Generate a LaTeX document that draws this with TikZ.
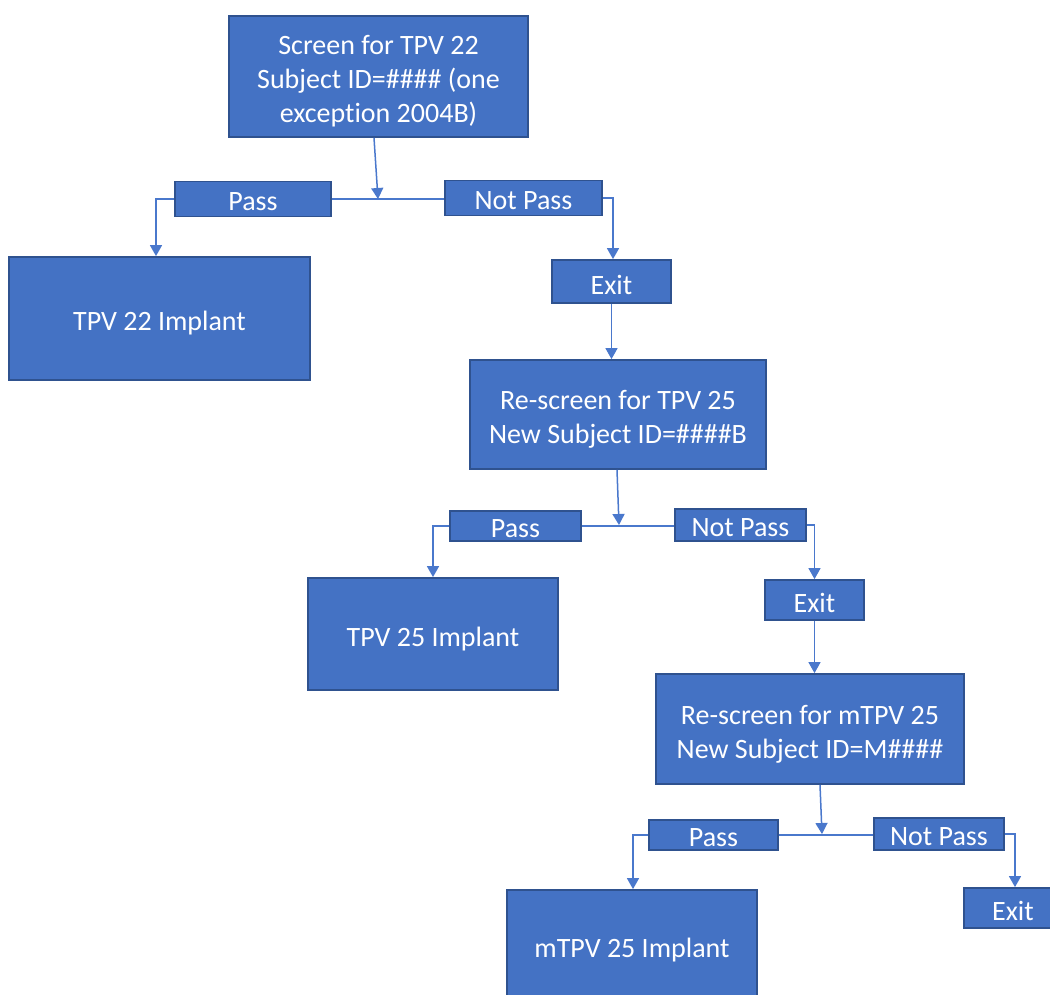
\documentclass[tikz,border=0pt]{standalone}
\usepackage{fontspec}
\setmainfont{Carlito}[Ligatures={NoCommon,NoRequired,NoContextual}]
\usetikzlibrary{arrows.meta}
\definecolor{boxfill}{HTML}{4472C4}
\definecolor{boxline}{HTML}{2F528F}
\definecolor{conn}{HTML}{4A78CC}
\begin{document}
\begin{tikzpicture}[x=1pt,y=-1pt,
  box/.style={draw=boxline,fill=boxfill,line width=1.8pt,inner sep=0pt},
  txt/.style={text=white,inner sep=0pt,align=center,font=\fontsize{28}{34}\selectfont,yshift=-5pt},
  stxt/.style={txt,yshift=2pt},
  conline/.style={draw=conn,line width=1.5pt},
  arr/.style={conline,-{Triangle[width=12pt,length=11pt]}}]
\useasboundingbox (0,0) rectangle (1050,994);
\clip (0,0) rectangle (1050,994);
% boxes
\node[box,minimum width=299pt,minimum height=121pt,label={[txt]center:Screen for TPV 22\\Subject ID=\#\#\#\# (one\\exception 2004B)}] (top) at (378.5,76.5) {};
\node[box,minimum width=156pt,minimum height=35pt,label={[stxt]center:Pass}] (pass1) at (253,199) {};
\node[box,minimum width=157pt,minimum height=35pt,label={[stxt]center:Not Pass}] (np1) at (523.5,198) {};
\node[box,minimum width=301pt,minimum height=123pt,label={[txt]center:TPV 22 Implant}] (imp22) at (159.5,318.5) {};
\node[box,minimum width=119pt,minimum height=43pt,label={[stxt]center:Exit}] (exit1) at (611.5,281.5) {};
\node[box,minimum width=296pt,minimum height=109pt,label={[txt]center:Re-screen for TPV 25\\New Subject ID=\#\#\#\#B}] (rs25) at (618,414.5) {};
\node[box,minimum width=131pt,minimum height=30pt,label={[stxt]center:Pass}] (pass2) at (515.5,526) {};
\node[box,minimum width=131pt,minimum height=32pt,label={[stxt]center:Not Pass}] (np2) at (740.5,525) {};
\node[box,minimum width=99pt,minimum height=40pt,label={[stxt]center:Exit}] (exit2) at (814.5,600) {};
\node[box,minimum width=250pt,minimum height=112pt,label={[txt]center:TPV 25 Implant}] (imp25) at (433,634) {};
\node[box,minimum width=308pt,minimum height=110pt,label={[txt]center:Re-screen for mTPV 25\\New Subject ID=M\#\#\#\#}] (rsm) at (810,729) {};
\node[box,minimum width=129pt,minimum height=30pt,label={[stxt]center:Pass}] (pass3) at (713.5,835) {};
\node[box,minimum width=130pt,minimum height=32pt,label={[stxt]center:Not Pass}] (np3) at (939,834) {};
\node[box,minimum width=98pt,minimum height=40pt,label={[stxt]center:Exit}] (exit3) at (1013,908) {};
\node[box,minimum width=250pt,minimum height=110pt,label={[txt]center:mTPV 25 Implant}] (impm) at (632,945) {};
% junction coordinates
\coordinate (j1) at (378,199);
\coordinate (j2) at (619,525);
\coordinate (j3) at (822,834);
% connectors level 1
\draw[arr] ([xshift=-4.5pt]top.south) -- (j1);
\draw[conline] (pass1.east) -- (np1.west |- pass1.east);
\draw[arr] (pass1.west) -| ([xshift=-3.5pt]imp22.north);
\draw[arr] (np1.east) -| ([xshift=1.5pt]exit1.north);
\draw[arr] (exit1.south) -- (exit1.south |- rs25.north);
% level 2
\draw[arr] ([xshift=-1pt]rs25.south) -- (j2);
\draw[conline] (pass2.east) -- (np2.west |- pass2.east);
\draw[arr] (pass2.west) -| (imp25.north);
\draw[arr] (np2.east) -| (exit2.north);
\draw[arr] (exit2.south) -- (exit2.south |- rsm.north);
% level 3
\draw[arr] ([xshift=10pt]rsm.south) -- (j3);
\draw[conline] (pass3.east) -- (np3.west |- pass3.east);
\draw[arr] (pass3.west) -| ([xshift=1pt]impm.north);
\draw[arr] (np3.east) -| ([xshift=2pt]exit3.north);
\end{tikzpicture}
\end{document}
